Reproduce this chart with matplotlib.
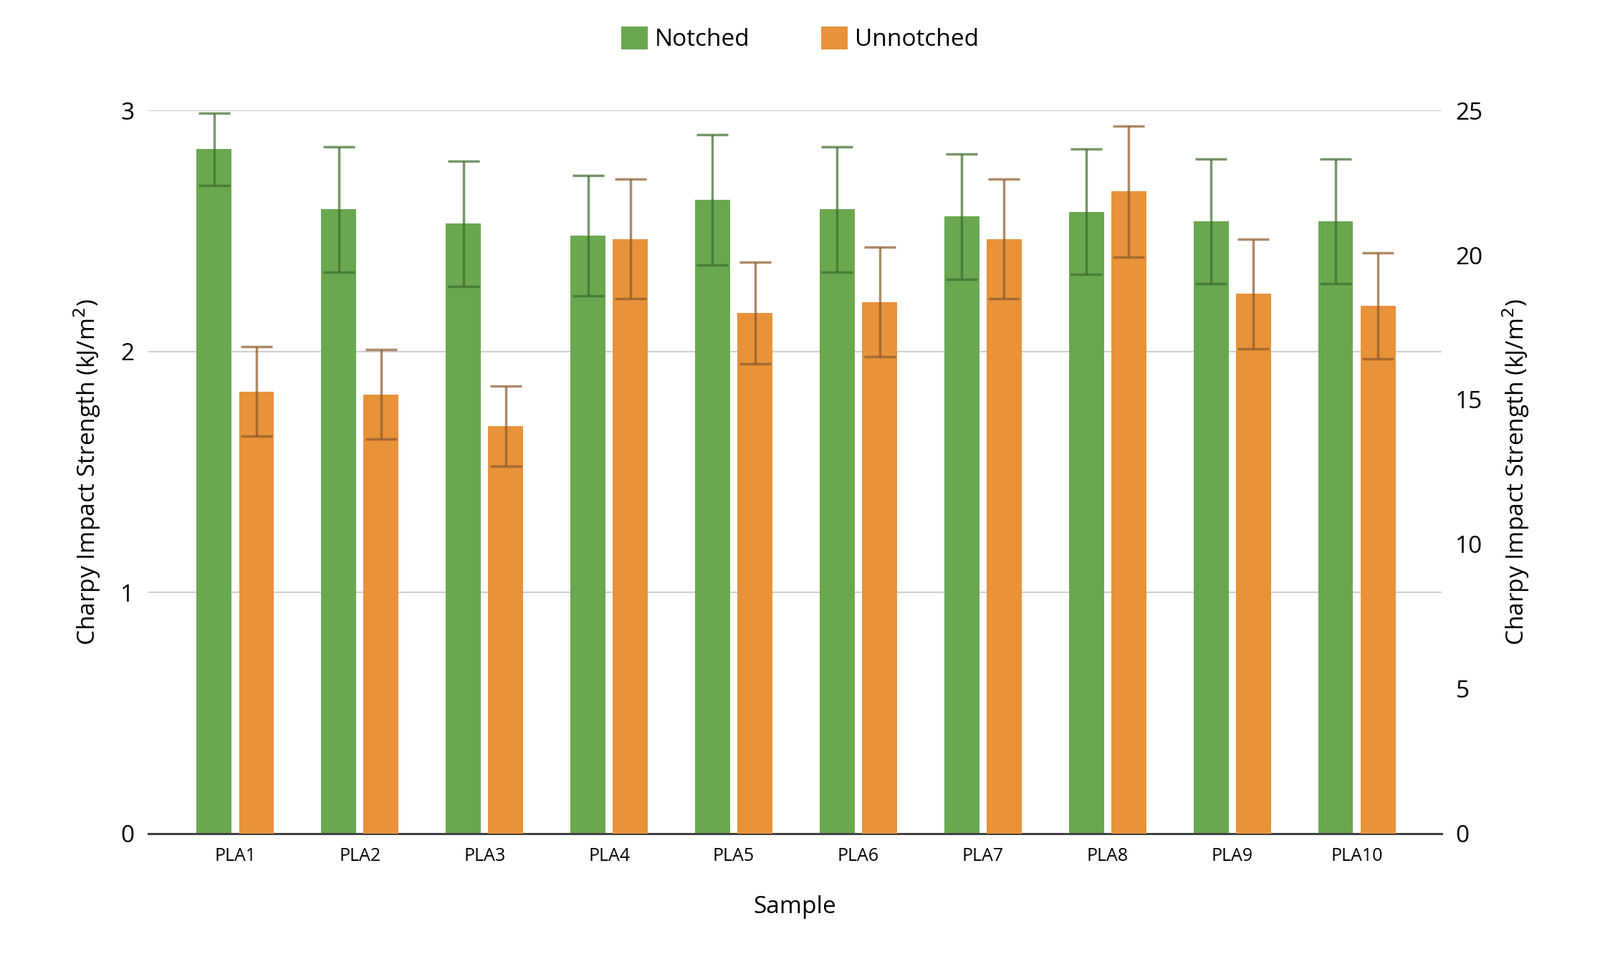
import matplotlib
matplotlib.use("Agg")
import matplotlib.pyplot as plt
import numpy as np

plt.rcParams["font.family"] = "Open Sans"

samples = ["PLA1", "PLA2", "PLA3", "PLA4", "PLA5", "PLA6", "PLA7", "PLA8", "PLA9", "PLA10"]
notched = [2.84, 2.59, 2.53, 2.48, 2.63, 2.59, 2.56, 2.58, 2.54, 2.54]
notched_err = [0.15, 0.26, 0.26, 0.25, 0.27, 0.26, 0.26, 0.26, 0.26, 0.26]
unnotched = [15.28, 15.18, 14.08, 20.56, 17.99, 18.38, 20.56, 22.2, 18.66, 18.24]
unnotched_err = [1.55, 1.55, 1.38, 2.08, 1.76, 1.9, 2.08, 2.27, 1.9, 1.83]

green = "#6aa84f"
orange = "#e8923a"

fig = plt.figure(figsize=(22.33, 13.53), dpi=100)
ax = fig.add_axes([0.0925, 0.14, 0.8085, 0.746])
ax2 = ax.twinx()

x = np.arange(len(samples))
w = 0.28
ax.bar(x - 0.17, notched, w, color=green, zorder=3, label="Notched")
ax.errorbar(x - 0.17, notched, yerr=notched_err, fmt="none", ecolor="#3e6b2c",
            alpha=0.7, elinewidth=2.5, capsize=16, capthick=2.5, zorder=4)
ax2.bar(x + 0.17, unnotched, w, color=orange, zorder=3, label="Unnotched")
ax2.errorbar(x + 0.17, unnotched, yerr=unnotched_err, fmt="none", ecolor="#8a5a2a",
             alpha=0.7, elinewidth=2.5, capsize=16, capthick=2.5, zorder=4)

ax.set_xlim(-0.7, 9.68)
ax.set_ylim(0, 3)
ax2.set_ylim(0, 25)
ax.set_yticks([0, 1, 2, 3])
ax2.set_yticks([0, 5, 10, 15, 20, 25])
ax.grid(axis="y", color="#d0d0d0", linewidth=1.5, zorder=0)
ax.set_axisbelow(True)
ax.set_xticks(x)
ax.set_xticklabels(samples, fontsize=18)
ax.tick_params(axis="y", labelsize=24, length=0, pad=14)
ax2.tick_params(axis="y", labelsize=24, length=0, pad=14)
ax.tick_params(axis="x", length=0, pad=14)
for a in (ax, ax2):
    for s in ("top", "left", "right"):
        a.spines[s].set_visible(False)
    a.spines["bottom"].set_color("#404040")
    a.spines["bottom"].set_linewidth(2)

ax.set_xlabel("Sample", fontsize=24, labelpad=30)
ax.set_ylabel("Charpy Impact Strength (kJ/m$^2$)", fontsize=24, labelpad=18)
ax2.set_ylabel("Charpy Impact Strength (kJ/m$^2$)", fontsize=24, labelpad=18)

h1, l1 = ax.get_legend_handles_labels()
h2, l2 = ax2.get_legend_handles_labels()
fig.legend(h1 + h2, l1 + l2, loc="upper center", bbox_to_anchor=(0.5, 0.995), ncol=2,
           frameon=False, fontsize=24, handlelength=1.1, handleheight=1.1,
           columnspacing=3, handletextpad=0.3)

fig.savefig("out.png", dpi=100, facecolor="white")
